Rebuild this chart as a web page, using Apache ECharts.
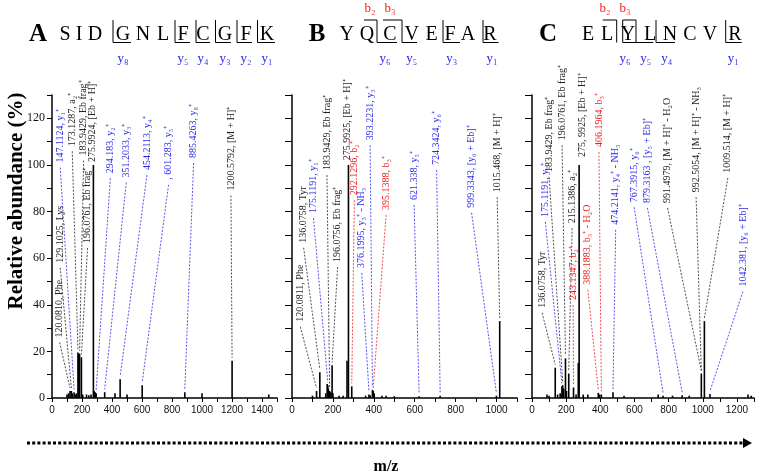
<!DOCTYPE html>
<html><head><meta charset="utf-8">
<script src="https://cdn.jsdelivr.net/npm/echarts@6/dist/echarts.min.js"></script>
<style>html,body{margin:0;padding:0;background:#fff}#c{width:759px;height:475px}</style>
</head><body><div id="c"></div><script>
// ---------- DATA ----------
const seqA = ['S','I','D','G','N','L','F','C','G','F','K'];
const ionsA = ['y₈','y₅','y₄','y₃','y₂','y₁'];
const seqB = ['Y','Q','C','V','E','F','A','R'];
const ionsB = ['y₆','y₅','y₃','y₁'];
const bIonsB = ['b₂','b₃'];
const seqC = ['E','L','Y','L','N','C','V','R'];
const ionsC = ['y₆','y₅','y₄','y₁'];
const bIonsC = ['b₂','b₃'];

const xTicksMaxA = 1500, xTicksMaxB = 1100, xTicksMaxC = 1300;

// peaks [m/z, relative abundance %]
const peaksA = [[100,1.5],[110,2],[120.08,3],[129.1,3],[135,2],[147.11,2.5],[155,1.5],[163,2],[173.13,19.5],[178,19],[183.94,19],[196.08,17.5],[205,1.5],[230,1.5],[245,1.2],[260,1.5],[275.99,100],[281,3],[288,2.5],[294.18,2],[351.2,2.5],[420,2],[454.21,8],[500,1.5],[601.28,5.5],[885.43,2.5],[1000,2],[1200.58,16],[1445,1.5]];
const peaksB = [[100,1],[120.08,3],[136.08,11],[165,2],[172,6],[175.12,5.5],[178,4],[184,3],[190,2.5],[196.08,14],[200,2],[230,1],[250,1],[269,16],[275.99,100],[292.13,5],[360,1],[376.2,1.5],[382,1.2],[393.22,3.5],[397,3],[402,2],[440,1],[460,1],[500,0.8],[621.34,0.8],[724.34,1],[999.33,1],[1015.47,33]];
const peaksC = [[88,1.5],[100,1],[136.08,13],[150,1.5],[165,2],[175.12,5],[180,5.5],[186,4],[196.08,17],[202,3],[215.14,10.5],[243.13,4.5],[258,1.5],[271,15],[275.99,100],[300,1.5],[327,1.5],[388.19,2.2],[396,1.5],[406.2,1.5],[474.21,2.5],[539,1],[739,1.5],[767.39,1],[823,1],[879.32,1.2],[921,1],[991.5,10.5],[1009.51,33],[1042.38,1.7],[1265,1.5],[1284,1]];

// annotations: label text, ion type (y / b / o), peak target [m/z, %], label anchor [m/z, %]
const annTextA = ['120.0810, Phe','129.1025, Lys','147.1124, y₁⁺','173.1287, a₂⁺','183.9429, Eb frag⁺','196.0761, Eb frag⁺','275.9924, [Eb + H]⁺','294.183, y₂⁺','351.2033, y₃⁺','454.2113, y₄⁺',', 601.283, y₅⁺','885.4263, y₈⁺','1200.5792, [M + H]⁺'];
const annTypeA = ['o','o','y','o','o','o','o','y','y','y','y','y','o'];
const annPeakA = [[120.08,3],[129.1,3],[147.11,2.5],[173.13,19.5],[183.94,19],[196.08,17.5],[275.99,100],[294.18,2],[351.2,2.5],[454.21,8],[601.28,5.5],[885.43,2.5],[1200.58,16]];
const annPosA  = [[51,26],[55,58],[55,101],[135,108],[211,104],[237,66.5],[268,101.3],[389,96.4],[495,94.6],[633,97.8],[777,93.6],[944,103],[1193,89]];

const annTextB = ['120.0811, Phe','136.0758, Tyr','175.1191, y₁⁺','183.9429, Eb frag⁺','196.0756, Eb frag⁺','275.9925, [Eb + H]⁺','292.1296, b₂⁺','376.1995, y₃⁺ - NH₃','393.2231, y₃⁺','395.1388, b₃⁺','621.338, y₅⁺','724.3424, y₆⁺','999.3343, [y₆ + Eb]⁺','1015.468, [M + H]⁺'];
const annTypeB = ['o','o','y','o','o','o','b','y','y','b','y','y','y','o'];
const annPeakB = [[120.08,3],[136.08,11],[175.12,5.5],[184,3],[196.08,14],[275.99,100],[292.13,5],[376.2,1.5],[393.22,3.5],[397,3],[621.34,0.8],[724.34,1],[999.33,1],[1015.47,33]];
const annPosB  = [[40.5,32.7],[57,66.6],[105,79.4],[171,97.8],[223,58.4],[271,102],[305,87],[341,55.8],[382,110.6],[460,80.7],[597,85],[707,100],[878,81.6],[1003,88.3]];

const annTextC = ['136.0758, Tyr','175.1191, y₁⁺','183.9429, Eb frag⁺','196.0761, Eb frag⁺','215.1386, a₂⁺','243.1347, b₂⁺','275, 9925, [Eb + H]⁺','388.1883, b₃⁺ - H₂O','406.1964, b₃⁺','474.2141, y₄⁺ - NH₃','767.3915, y₆⁺','879.3163 , [y₅ + Eb]⁺','991.4979, [M + H]⁺ - H₂O','992.5054, [M + H]⁺ - NH₃','1009.514, [M + H]⁺','1042.381, [y₆ + Eb]⁺'];
const annTypeC = ['o','y','o','o','o','b','o','b','b','y','y','y','o','o','o','y'];
const annPeakC = [[136.08,13],[175.12,5],[180,5.5],[196.08,17],[215.14,10.5],[243.13,4.5],[275.99,100],[388.19,2.2],[406.2,1.5],[474.21,2.5],[767.39,1],[879.32,1.2],[991.5,10.5],[991.5,10.5],[1009.51,33],[1042.38,1.7]];
const annPosC  = [[59,38.7],[78,77.7],[100,97],[176,110.6],[235,75],[241,42],[295,103.4],[327,48.6],[392,107.7],[490,74.3],[598,84],[676,83.7],[794,83.7],[961,88.3],[1147,96.6],[1235,47.8]];

// ---------- STYLE / LAYOUT ----------
const BLUE = '#2a2ae8', RED = '#ee2020', BLK = '#222';
const typeColor = {y: BLUE, b: RED, o: BLK};
const SERIF = '"Liberation Serif", "Times New Roman", serif';
const chart = echarts.init(document.getElementById('c'), null, {renderer: 'canvas'});

const grids = [
  {left: 52, top: 95, width: 225, height: 303},
  {left: 292, top: 95, width: 225, height: 303},
  {left: 532, top: 95, width: 222, height: 303}
];
const xMax = [xTicksMaxA, xTicksMaxB, xTicksMaxC];

function makeRender(texts, types) {
  return function (params, api) {
    const k = api.value(4);
    const p0 = api.coord([api.value(0), api.value(1)]);
    const p1 = api.coord([api.value(2), api.value(3)]);
    const col = typeColor[types[k]];
    const children = [{
      type: 'text', x: p0[0], y: p0[1], rotation: Math.PI / 2,
      style: {text: texts[k], fill: col, font: '10px ' + SERIF, align: 'left', verticalAlign: 'middle'}
    }];
    if (p1[1] - p0[1] > 8) {
      children.push({
        type: 'line',
        shape: {x1: p0[0], y1: p0[1] + 5, x2: p1[0], y2: p1[1] - 3},
        style: {stroke: col, lineWidth: 0.8, lineDash: [2, 1.5]}
      });
    }
    return {type: 'group', children};
  };
}

const allPeaks = [peaksA, peaksB, peaksC];
const allAnn = [[annTextA, annTypeA, annPeakA, annPosA], [annTextB, annTypeB, annPeakB, annPosB], [annTextC, annTypeC, annPeakC, annPosC]];

const xAxis = [0, 1, 2].map(i => ({
  type: 'value', gridIndex: i, min: 0, max: xMax[i], interval: 100,
  axisLine: {show: true, onZero: false, lineStyle: {color: '#000', width: 1.5}},
  axisTick: {show: true, length: 4, lineStyle: {color: '#000', width: 1}},
  axisLabel: {show: true, showMinLabel: true, showMaxLabel: true, hideOverlap: false,
    formatter: v => (v % 200 === 0 ? String(v) : ''), color: '#111', fontSize: 10,
    fontFamily: '"Liberation Sans Narrow", "Liberation Sans", Arial, sans-serif', margin: 7},
  splitLine: {show: false}
}));
const yAxis = [0, 1, 2].map(i => ({
  type: 'value', gridIndex: i, min: 0, max: 130, interval: 10,
  axisLine: {show: true, lineStyle: {color: '#000', width: 1.5}},
  axisTick: {show: true, length: i === 0 ? 5 : 7, lineStyle: {color: '#000', width: 1}},
  axisLabel: {show: i === 0, showMinLabel: true, formatter: v => (v % 20 === 0 ? String(v) : ''),
    color: '#111', fontSize: 12, fontFamily: SERIF, margin: 7},
  splitLine: {show: false}
}));

const series = [];
[0, 1, 2].forEach(i => {
  series.push({type: 'bar', xAxisIndex: i, yAxisIndex: i, data: allPeaks[i], barWidth: 1.6,
    itemStyle: {color: '#000'}, silent: true});
  const [t, ty, pk, ps] = allAnn[i];
  series.push({type: 'custom', xAxisIndex: i, yAxisIndex: i, clip: false, z: 5, silent: true,
    encode: {x: [0, 2], y: [1, 3]},
    data: ps.map((p, k) => [p[0], p[1], pk[k][0], pk[k][1], k]),
    renderItem: makeRender(t, ty)});
});

// header graphics
function T(x, y, s, font, fill) {
  return {type: 'text', x, y, style: {text: s, font, fill: fill || '#000', align: 'center', verticalAlign: 'middle'}};
}
function L(x1, y1, x2, y2) {
  return {type: 'line', shape: {x1, y1, x2, y2}, style: {stroke: '#000', lineWidth: 1}};
}
const letterFont = '20px ' + SERIF;
const ionFont = '13px ' + SERIF;
const G = [];
const TOP = 20, BOT = 42.5, IONY = 59, BY = 9;
// Panel A header
G.push(T(38, 35, 'A', 'bold 25px ' + SERIF));
[65, 79, 95, 123, 143, 163, 183, 203, 225, 246, 267].forEach((x, k) => G.push(T(x, 35, seqA[k], letterFont)));
[[113, 131], [175, 190], [196, 210], [215.5, 231], [237, 252], [257.5, 275]].forEach(([a, b]) => { G.push(L(a, TOP, a, BOT)); G.push(L(a, BOT, b, BOT)); });
[123, 183, 203, 225, 246, 267].forEach((x, k) => G.push(T(x, IONY, ionsA[k], ionFont, BLUE)));
// Panel B header
G.push(T(317, 35, 'B', 'bold 25px ' + SERIF));
[346.7, 367, 390, 411.7, 431.7, 450, 468, 490].forEach((x, k) => G.push(T(x, 35, seqB[k], letterFont)));
G.push(L(364, TOP, 377, TOP)); G.push(L(377, TOP, 377, BOT)); G.push(L(377, BOT, 397, BOT));
G.push(L(383, TOP, 402, TOP)); G.push(L(402, TOP, 402, BOT)); G.push(L(402, BOT, 417, BOT));
G.push(L(443, TOP, 443, BOT)); G.push(L(443, BOT, 460, BOT));
G.push(L(483, TOP, 483, BOT)); G.push(L(483, BOT, 498.5, BOT));
[385, 411.7, 451.7, 492].forEach((x, k) => G.push(T(x, IONY, ionsB[k], ionFont, BLUE)));
[370, 390].forEach((x, k) => G.push(T(x, BY, bIonsB[k], ionFont, RED)));
// Panel C header
G.push(T(548, 35, 'C', 'bold 25px ' + SERIF));
[588, 607, 628, 650, 670, 690, 710, 735].forEach((x, k) => G.push(T(x, 35, seqC[k], letterFont)));
G.push(L(602.7, TOP, 616.7, TOP)); G.push(L(616.7, TOP, 616.7, BOT));
G.push(L(622.7, TOP, 636, TOP)); G.push(L(622.7, TOP, 622.7, BOT)); G.push(L(622.7, BOT, 636, BOT));
G.push(L(636, TOP, 636, BOT)); G.push(L(636, BOT, 653.3, BOT));
G.push(L(656, TOP, 656, BOT)); G.push(L(656, BOT, 675, BOT));
G.push(L(725.7, TOP, 725.7, BOT)); G.push(L(725.7, BOT, 741.7, BOT));
[625, 645.7, 666.7, 733.3].forEach((x, k) => G.push(T(x, IONY, ionsC[k], ionFont, BLUE)));
[605, 625].forEach((x, k) => G.push(T(x, BY, bIonsC[k], ionFont, RED)));
// y title
G.push({type: 'text', x: 17, y: 201, rotation: Math.PI / 2,
  style: {text: 'Relative abundance (%)', font: 'bold 21px ' + SERIF, fill: '#000', align: 'center', verticalAlign: 'middle'}});
// dotted arrow
G.push({type: 'line', shape: {x1: 27, y1: 443, x2: 743, y2: 443}, style: {stroke: '#000', lineWidth: 3, lineDash: [3, 2.2]}});
G.push({type: 'polygon', shape: {points: [[743, 438], [752, 443], [743, 448]]}, style: {fill: '#000'}});
G.push(T(386, 467, 'm/z', 'bold 16px ' + SERIF));

chart.setOption({
  animation: false,
  backgroundColor: '#fff',
  grid: grids,
  xAxis, yAxis, series,
  graphic: G
});
</script></body></html>
